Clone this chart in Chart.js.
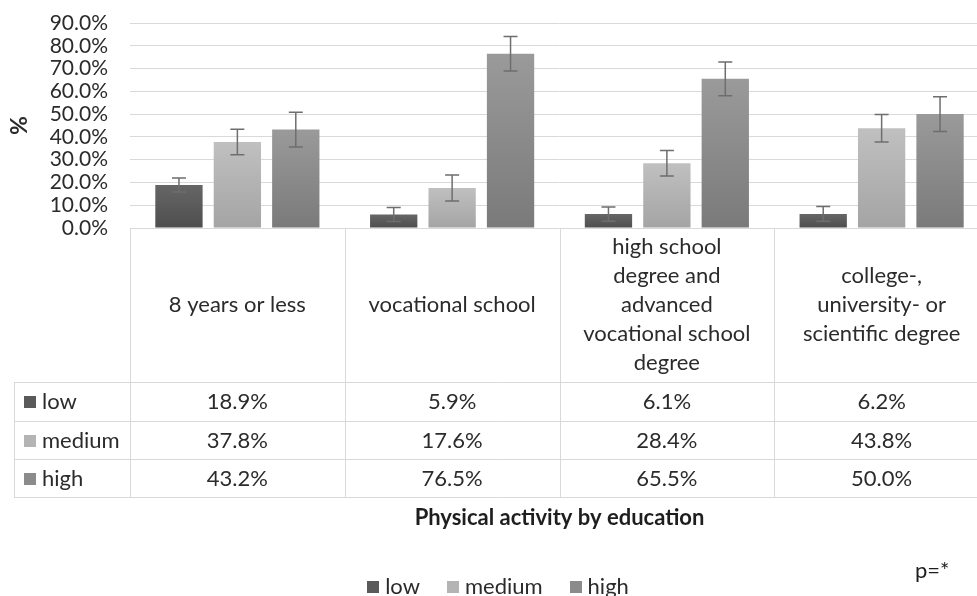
<!DOCTYPE html>
<html>
<head>
<meta charset="utf-8">
<script src="https://cdn.jsdelivr.net/npm/chart.js@4.4.0/dist/chart.umd.min.js"></script>
<style>
  html, body { margin: 0; padding: 0; overflow: hidden; background: #fff; }
  #wrap { width: 1000px; height: 596px; }
</style>
</head>
<body>
<div id="wrap"><canvas id="c" width="1000" height="596"></canvas></div>
<script>
// Education categories (each entry is the wrapped header text of one table column)
const categories = [
  ['8 years or less'],
  ['vocational school'],
  ['high school', 'degree and', 'advanced', 'vocational school', 'degree'],
  ['college-,', 'university- or', 'scientific degree']
];
const seriesNames = ['low', 'medium', 'high'];

// Share of respondents per physical-activity level (%)
const lowValues    = [18.9, 5.9, 6.1, 6.2];
const mediumValues = [37.8, 17.6, 28.4, 43.8];
const highValues   = [43.2, 76.5, 65.5, 50.0];

// Error bar half-widths (%)
const lowErrors    = [3.1, 3.1, 3.1, 3.2];
const mediumErrors = [5.6, 5.7, 5.6, 6.0];
const highErrors   = [7.6, 7.6, 7.4, 7.6];

// Value axis
const yMin = 0, yMax = 90, yStep = 10;

const chartTitle = 'Physical activity by education';
const pNote = 'p=*';

const FONT = 'Lato, "Open Sans", sans-serif';
const TEXT = '#2b2b2b';
const LINE = '#d9d9d9';
Chart.defaults.font.family = FONT;

const seriesValues = [lowValues, mediumValues, highValues];
const seriesErrors = [lowErrors, mediumErrors, highErrors];
const swatch = ['#5a5a5a', '#b4b4b4', '#8b8b8b'];
const gradTop = ['#666666', '#c0c0c0', '#9a9a9a'];
const gradBottom = ['#4e4e4e', '#a4a4a4', '#7a7a7a'];

function barGradient(d) {
  return (ctx) => {
    const chart = ctx.chart;
    const ys = chart.scales && chart.scales.y;
    if (!ys || ctx.type !== 'data') return swatch[d];
    const v = ctx.raw;
    const y0 = ys.getPixelForValue(v), y1 = ys.getPixelForValue(0);
    if (!isFinite(y0) || !isFinite(y1) || y0 === y1) return swatch[d];
    const g = chart.ctx.createLinearGradient(0, y0, 0, y1);
    g.addColorStop(0, gradTop[d]);
    g.addColorStop(1, gradBottom[d]);
    return g;
  };
}

// Symmetric error bars centred on each bar
const errorBars = {
  id: 'errorBars',
  afterDatasetsDraw(chart) {
    const ctx = chart.ctx, y = chart.scales.y;
    ctx.save();
    ctx.strokeStyle = '#6e6e6e';
    ctx.lineWidth = 1.5;
    seriesValues.forEach((vals, d) => {
      const meta = chart.getDatasetMeta(d);
      meta.data.forEach((bar, i) => {
        const e = seriesErrors[d][i];
        const yt = y.getPixelForValue(vals[i] + e);
        const yb = y.getPixelForValue(vals[i] - e);
        const x = bar.x;
        ctx.beginPath();
        ctx.moveTo(x, yt); ctx.lineTo(x, yb);
        ctx.moveTo(x - 7, yt); ctx.lineTo(x + 7, yt);
        ctx.moveTo(x - 7, yb); ctx.lineTo(x + 7, yb);
        ctx.stroke();
      });
    });
    ctx.restore();
  }
};

// Data table under the plot, axis title, chart title, legend and note
const dataTable = {
  id: 'dataTable',
  afterDraw(chart) {
    const ctx = chart.ctx;
    const xs = chart.scales.x;
    const area = chart.chartArea;
    const n = categories.length;
    const colW = (area.right - area.left) / n;
    const headerBottom = 382;
    const rows = [382, 420.5, 459, 497];
    const keyLeft = 14;

    ctx.save();
    ctx.strokeStyle = LINE;
    ctx.lineWidth = 1;
    ctx.beginPath();
    // column borders
    for (let i = 0; i <= n; i++) {
      const x = Math.round(area.left + i * colW) + 0.5;
      ctx.moveTo(x, area.bottom); ctx.lineTo(x, rows[rows.length - 1]);
    }
    ctx.moveTo(keyLeft + 0.5, rows[0]); ctx.lineTo(keyLeft + 0.5, rows[rows.length - 1]);
    // row borders
    rows.forEach(r => {
      const yy = Math.round(r) + 0.5;
      ctx.moveTo(keyLeft, yy); ctx.lineTo(area.right, yy);
    });
    ctx.stroke();

    ctx.fillStyle = TEXT;
    ctx.font = '22px ' + FONT;
    ctx.textAlign = 'center';
    ctx.textBaseline = 'middle';
    // category headers
    const headMid = (area.bottom + headerBottom) / 2;
    categories.forEach((lines, i) => {
      const cx = xs.getPixelForValue(i);
      const lh = 29;
      const y0 = headMid - (lines.length - 1) * lh / 2;
      lines.forEach((t, k) => ctx.fillText(t, cx, y0 + k * lh));
    });
    // value rows
    seriesValues.forEach((vals, d) => {
      const cy = (rows[d] + rows[d + 1]) / 2 + 1;
      vals.forEach((v, i) => {
        ctx.fillText(v.toFixed(1) + '%', xs.getPixelForValue(i), cy);
      });
      ctx.fillStyle = swatch[d];
      ctx.fillRect(24, Math.round(cy - 6), 12, 12);
      ctx.fillStyle = TEXT;
      ctx.textAlign = 'left';
      ctx.fillText(seriesNames[d], 42, cy);
      ctx.textAlign = 'center';
    });

    // axis title
    ctx.save();
    ctx.translate(20, (area.top + area.bottom) / 2);
    ctx.rotate(-Math.PI / 2);
    ctx.font = 'bold 23px ' + FONT;
    ctx.fillText('%', 0, 0);
    ctx.restore();

    // chart title
    ctx.font = 'bold 22px ' + FONT;
    ctx.fillStyle = '#1e1e1e';
    ctx.fillText(chartTitle, (area.left + area.right) / 2, 518);

    // legend
    ctx.font = '22px ' + FONT;
    ctx.fillStyle = TEXT;
    const widths = seriesNames.map(s => ctx.measureText(s).width);
    const itemW = widths.map(w => 12 + 6 + w);
    const gap = 27;
    const total = itemW.reduce((a, b) => a + b, 0) + gap * (itemW.length - 1);
    let lx = 498 - total / 2;
    const ly = 587;
    seriesNames.forEach((s, d) => {
      ctx.fillStyle = swatch[d];
      ctx.fillRect(Math.round(lx), ly - 6, 12, 12);
      ctx.fillStyle = TEXT;
      ctx.textAlign = 'left';
      ctx.fillText(s, lx + 18, ly);
      lx += itemW[d] + gap;
    });

    // significance note
    ctx.fillStyle = '#1e1e1e';
    ctx.fillText(pNote, 915, 571);
    ctx.restore();
  }
};

new Chart(document.getElementById('c'), {
  type: 'bar',
  data: {
    labels: categories.map(l => l.join(' ')),
    datasets: seriesNames.map((name, d) => ({
      label: name,
      data: seriesValues[d],
      backgroundColor: barGradient(d),
      borderWidth: 0,
      categoryPercentage: 0.816,
      barPercentage: 0.81
    }))
  },
  options: {
    responsive: false,
    animation: false,
    devicePixelRatio: 1,
    layout: { padding: { top: 23, right: 11, bottom: 368, left: 0 } },
    plugins: { legend: { display: false }, tooltip: { enabled: false } },
    scales: {
      x: { display: false, offset: true },
      y: {
        min: yMin, max: yMax,
        ticks: {
          stepSize: yStep,
          autoSkip: false,
          callback: v => Number(v).toFixed(1) + '%',
          color: TEXT,
          font: { size: 21 },
          padding: 22
        },
        grid: { color: LINE, drawTicks: false },
        border: { display: false },
        afterFit(s) { s.width = 130; s.paddingTop = 0; s.paddingBottom = 0; }
      }
    }
  },
  plugins: [errorBars, dataTable]
});
</script>
</body>
</html>
